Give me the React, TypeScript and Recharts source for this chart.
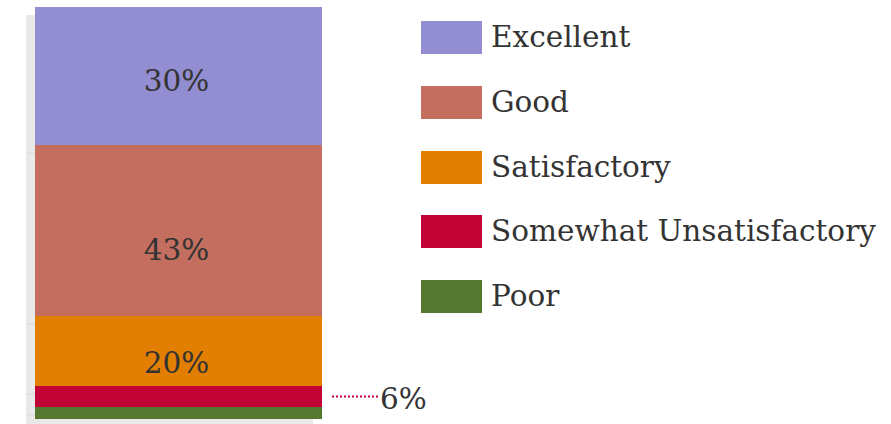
import { BarChart, Bar, XAxis, YAxis, LabelList } from 'recharts';

const categories = ['Excellent', 'Good', 'Satisfactory', 'Somewhat Unsatisfactory', 'Poor'];
// shares as drawn (bar heights), and the printed labels
const shares = [33.5, 41.5, 17, 5.1, 2.9];
const shareLabels = ['30%', '43%', '20%', '6%', ''];
const colors = ['#938dd1', '#c36e5f', '#e27e00', '#c10435', '#557830'];

const FONT = 'DejaVu Serif';
const FONT_SIZE = 29.5;
const TEXT = '#333333';

// the printed labels sit a little below the segment middles
const labelNudge: Record<string, number> = {
  Excellent: 5,
  Good: 19,
  Satisfactory: 12,
};

const data = [
  categories.reduce<Record<string, number | string>>(
    (row, cat, i) => {
      row[cat] = shares[i];
      return row;
    },
    { name: 'Rating' }
  ),
];

function insideLabel(text: string, dy: number) {
  return (props: any) => {
    const { x, y, width, height } = props;
    if (!text) return null;
    return (
      <text
        x={x + width / 2 - 2}
        y={y + height / 2 + dy}
        textAnchor="middle"
        dominantBaseline="central"
        fontFamily={FONT}
        fontSize={FONT_SIZE}
        fill={TEXT}
      >
        {text}
      </text>
    );
  };
}

function calloutLabel(text: string, color: string) {
  return (props: any) => {
    const { x, y, width, height } = props;
    const cy = y + height / 2;
    const x0 = x + width;
    return (
      <g>
        <line
          x1={x0 + 10}
          x2={x0 + 56}
          y1={cy}
          y2={cy}
          stroke={color}
          strokeWidth={2}
          strokeDasharray="2 2"
        />
        <text
          x={x0 + 58}
          y={cy + 2}
          dominantBaseline="central"
          fontFamily={FONT}
          fontSize={FONT_SIZE}
          fill={TEXT}
        >
          {text}
        </text>
      </g>
    );
  };
}

// drop shadow: the bar's outline shifted left and down
const shadowEdges = [153, 324, 394, 415];

export default function App() {
  // bottom of the stack first
  const order = categories.map((_, i) => i).reverse();

  return (
    <div style={{ position: 'absolute', left: 0, top: 0, width: 891, height: 424, background: '#fff' }}>
      <svg width={891} height={424} style={{ position: 'absolute', left: 0, top: 0 }}>
        <rect x={26} y={15} width={287} height={409} fill="#e9e9e9" />
        {shadowEdges.map((gy) => (
          <line key={gy} x1={26} x2={313} y1={gy} y2={gy} stroke="#dadada" strokeWidth={1} />
        ))}
      </svg>
      <div style={{ position: 'absolute', left: 0, top: 0 }}>
        <BarChart
          width={891}
          height={424}
          data={data}
          margin={{ top: 7, right: 569, left: 35, bottom: 5 }}
          barCategoryGap={0}
        >
          <XAxis dataKey="name" hide />
          <YAxis hide domain={[0, 100]} />
          {order.map((i) => (
            <Bar
              key={categories[i]}
              dataKey={categories[i]}
              stackId="a"
              fill={colors[i]}
              isAnimationActive={false}
            >
              <LabelList
                dataKey={categories[i]}
                content={
                  categories[i] === 'Somewhat Unsatisfactory'
                    ? calloutLabel(shareLabels[i], colors[i])
                    : insideLabel(shareLabels[i], labelNudge[categories[i]] ?? 0)
                }
              />
            </Bar>
          ))}
        </BarChart>
      </div>
      <div style={{ position: 'absolute', left: 421, top: 21, fontFamily: FONT, color: TEXT }}>
        {categories.map((cat, i) => (
          <div
            key={cat}
            style={{ display: 'flex', alignItems: 'center', height: 33, marginBottom: 31.8 }}
          >
            <div style={{ width: 61, height: 33, background: colors[i] }} />
            <span style={{ marginLeft: 9, fontSize: FONT_SIZE, lineHeight: '33px', whiteSpace: 'nowrap' }}>
              {cat}
            </span>
          </div>
        ))}
      </div>
    </div>
  );
}
